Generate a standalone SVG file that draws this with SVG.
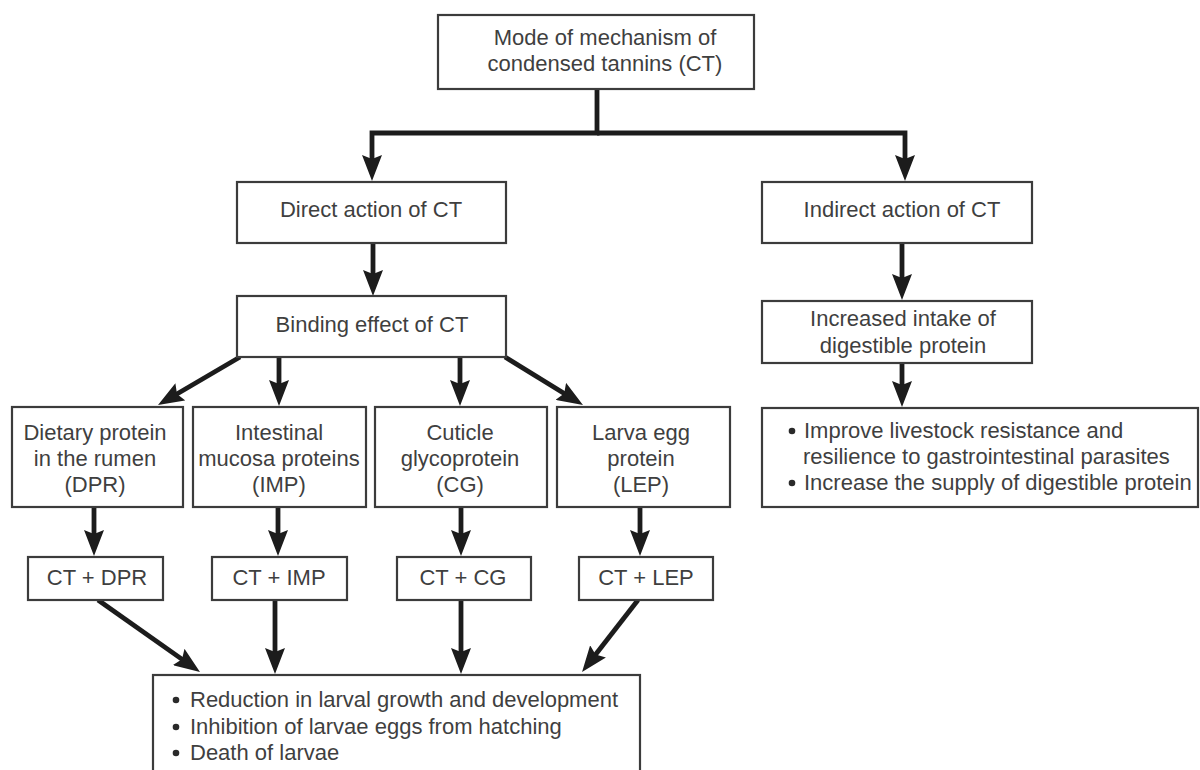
<svg xmlns="http://www.w3.org/2000/svg" width="1200" height="770" viewBox="0 0 1200 770">
<style>
.box{fill:#fff;stroke:#3c3c3c;stroke-width:2.2}
.t{font-family:"Liberation Sans",Arial,sans-serif;font-size:22px;fill:#3f3f3f;text-anchor:middle}
.l{font-family:"Liberation Sans",Arial,sans-serif;font-size:22px;fill:#3f3f3f}
.c{fill:none;stroke:#1c1c1c;stroke-width:4.8;stroke-linejoin:miter}
.b{fill:#2a2a2a}
</style>
<defs>
<marker id="ah" viewBox="0 0 26 20" refX="15" refY="10" markerWidth="26" markerHeight="20" markerUnits="userSpaceOnUse" orient="auto">
<path d="M0,0 L26,10 L0,20 L4,10 Z" fill="#1c1c1c"/>
</marker>
</defs>
<rect width="1200" height="770" fill="#fff"/>

<g id="connectors">
<path class="c" d="M597,89 V133 H372 V170" marker-end="url(#ah)"/>
<path class="c" d="M597,133 H905 V170" marker-end="url(#ah)"/>
<path class="c" d="M373,243 V285" marker-end="url(#ah)"/>
<path class="c" d="M240,357 L167.5,399.5" marker-end="url(#ah)"/>
<path class="c" d="M279,357 V395" marker-end="url(#ah)"/>
<path class="c" d="M460,357 V395" marker-end="url(#ah)"/>
<path class="c" d="M505,357 L573.6,399.2" marker-end="url(#ah)"/>
<path class="c" d="M94,507 V545" marker-end="url(#ah)"/>
<path class="c" d="M278,507 V545" marker-end="url(#ah)"/>
<path class="c" d="M461,507 V545" marker-end="url(#ah)"/>
<path class="c" d="M640,507 V545" marker-end="url(#ah)"/>
<path class="c" d="M98,600 L191,665.6" marker-end="url(#ah)"/>
<path class="c" d="M275,600 V663" marker-end="url(#ah)"/>
<path class="c" d="M461,600 V663" marker-end="url(#ah)"/>
<path class="c" d="M638,600 L588.8,663.3" marker-end="url(#ah)"/>
<path class="c" d="M902,243 V289" marker-end="url(#ah)"/>
<path class="c" d="M902,363 V396" marker-end="url(#ah)"/>
</g>

<g id="top">
<rect class="box" x="438" y="15" width="316" height="74"/>
<text class="t" x="605" y="45">Mode of mechanism of</text>
<text class="t" x="605" y="71">condensed tannins (CT)</text>
</g>

<g id="direct">
<rect class="box" x="237" y="182" width="269" height="61"/>
<text class="t" x="371" y="217">Direct action of CT</text>
</g>

<g id="indirect">
<rect class="box" x="762" y="182" width="270" height="61"/>
<text class="t" x="902" y="217">Indirect action of CT</text>
</g>

<g id="binding">
<rect class="box" x="237" y="296" width="269" height="61"/>
<text class="t" x="372" y="332">Binding effect of CT</text>
</g>

<g id="increased">
<rect class="box" x="762" y="301" width="270" height="62"/>
<text class="t" x="903" y="326">Increased intake of</text>
<text class="t" x="903" y="353">digestible protein</text>
</g>

<g id="dpr">
<rect class="box" x="12" y="407" width="171" height="100"/>
<text class="t" x="95" y="440">Dietary protein</text>
<text class="t" x="95" y="466">in the rumen</text>
<text class="t" x="95" y="492">(DPR)</text>
</g>

<g id="imp">
<rect class="box" x="193" y="407" width="173" height="100"/>
<text class="t" x="279" y="440">Intestinal</text>
<text class="t" x="279" y="466">mucosa proteins</text>
<text class="t" x="279" y="492">(IMP)</text>
</g>

<g id="cg">
<rect class="box" x="375" y="407" width="172" height="100"/>
<text class="t" x="460" y="440">Cuticle</text>
<text class="t" x="460" y="466">glycoprotein</text>
<text class="t" x="460" y="492">(CG)</text>
</g>

<g id="lep">
<rect class="box" x="557" y="407" width="173" height="100"/>
<text class="t" x="641" y="440">Larva egg</text>
<text class="t" x="641" y="466">protein</text>
<text class="t" x="641" y="492">(LEP)</text>
</g>

<g id="ct-dpr">
<rect class="box" x="28" y="557" width="135" height="43"/>
<text class="t" x="97" y="585">CT + DPR</text>
</g>
<g id="ct-imp">
<rect class="box" x="212" y="557" width="135" height="43"/>
<text class="t" x="279" y="585">CT + IMP</text>
</g>
<g id="ct-cg">
<rect class="box" x="397" y="557" width="134" height="43"/>
<text class="t" x="463" y="585">CT + CG</text>
</g>
<g id="ct-lep">
<rect class="box" x="579" y="557" width="134" height="43"/>
<text class="t" x="646" y="585">CT + LEP</text>
</g>

<g id="effects">
<rect class="box" x="153" y="675" width="487" height="120"/>
<circle class="b" cx="176" cy="700" r="3.3"/>
<text class="l" x="190" y="707">Reduction in larval growth and development</text>
<circle class="b" cx="176" cy="727" r="3.3"/>
<text class="l" x="190" y="734">Inhibition of larvae eggs from hatching</text>
<circle class="b" cx="176" cy="753" r="3.3"/>
<text class="l" x="190" y="760">Death of larvae</text>
</g>

<g id="benefits">
<rect class="box" x="762" y="408" width="436" height="99"/>
<circle class="b" cx="792" cy="431" r="3.3"/>
<text class="l" x="804" y="438">Improve livestock resistance and</text>
<text class="l" x="803" y="464">resilience to gastrointestinal parasites</text>
<circle class="b" cx="792" cy="483" r="3.3"/>
<text class="l" x="804" y="490">Increase the supply of digestible protein</text>
</g>
</svg>
